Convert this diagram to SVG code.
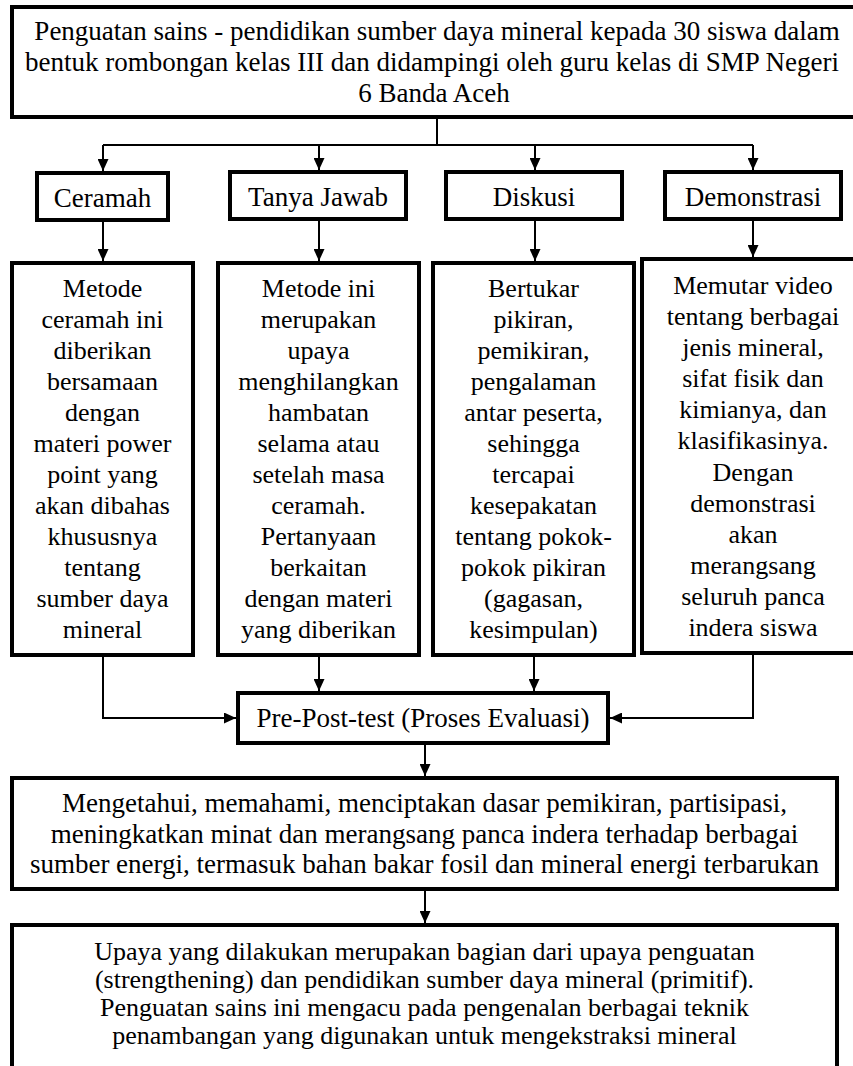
<svg xmlns="http://www.w3.org/2000/svg" width="853" height="1066" viewBox="0 0 853 1066">
<style>
.box{fill:#fff;stroke:#000;stroke-width:4}
.t{font-family:"Liberation Serif","Times New Roman",serif;font-size:27px;fill:#000;text-anchor:middle}
.m{font-size:26px}
.c{fill:none;stroke:#000;stroke-width:2}
</style>
<defs>
<marker id="ah" markerUnits="userSpaceOnUse" markerWidth="12" markerHeight="11" viewBox="0 0 12 11" refX="12" refY="5.5" orient="auto">
<path d="M0,0 L12,5.5 L0,11 z" fill="#000"/>
</marker>
</defs>
<rect width="853" height="1066" fill="#fff"/>
<g id="connectors">
<path class="c" d="M437 117 V145 M103 145 H753"/>
<path class="c" d="M103 145 V171" marker-end="url(#ah)"/>
<path class="c" d="M319 145 V170" marker-end="url(#ah)"/>
<path class="c" d="M535 145 V170" marker-end="url(#ah)"/>
<path class="c" d="M753 145 V170" marker-end="url(#ah)"/>
<path class="c" d="M103 222 V261" marker-end="url(#ah)"/>
<path class="c" d="M319 221 V261" marker-end="url(#ah)"/>
<path class="c" d="M535 221 V261" marker-end="url(#ah)"/>
<path class="c" d="M753 221 V257" marker-end="url(#ah)"/>
<path class="c" d="M103 657 V718 H236" marker-end="url(#ah)"/>
<path class="c" d="M319 657 V691" marker-end="url(#ah)"/>
<path class="c" d="M534 657 V691" marker-end="url(#ah)"/>
<path class="c" d="M753 655 V718 H610" marker-end="url(#ah)"/>
<path class="c" d="M425 745 V776" marker-end="url(#ah)"/>
<path class="c" d="M425 891 V923" marker-end="url(#ah)"/>
</g>
<g id="top">
<rect class="box" x="12" y="7" width="850" height="110"/>
<text class="t"><tspan x="437" y="40">Penguatan sains - pendidikan sumber daya mineral kepada 30 siswa dalam</tspan><tspan x="432" y="71">bentuk rombongan kelas III dan didampingi oleh guru kelas di SMP Negeri</tspan><tspan x="434" y="102">6 Banda Aceh</tspan></text>
</g>
<g id="ceramah">
<rect class="box" x="37" y="173" width="131" height="47"/>
<text class="t" x="102.5" y="207">Ceramah</text>
</g>
<g id="tanya-jawab">
<rect class="box" x="230" y="172" width="176" height="47"/>
<text class="t" x="318" y="206">Tanya Jawab</text>
</g>
<g id="diskusi">
<rect class="box" x="446" y="172" width="176" height="47"/>
<text class="t" x="534" y="206">Diskusi</text>
</g>
<g id="demonstrasi">
<rect class="box" x="665" y="172" width="176" height="47"/>
<text class="t" x="753" y="206">Demonstrasi</text>
</g>
<g id="ceramah-desc">
<rect class="box" x="12" y="263" width="181" height="392"/>
<text class="t m"><tspan x="102.5" y="297">Metode</tspan><tspan x="102.5" y="328">ceramah ini</tspan><tspan x="102.5" y="359">diberikan</tspan><tspan x="102.5" y="390">bersamaan</tspan><tspan x="102.5" y="421">dengan</tspan><tspan x="102.5" y="452">materi power</tspan><tspan x="102.5" y="483">point yang</tspan><tspan x="102.5" y="514">akan dibahas</tspan><tspan x="102.5" y="545">khususnya</tspan><tspan x="102.5" y="576">tentang</tspan><tspan x="102.5" y="607">sumber daya</tspan><tspan x="102.5" y="638">mineral</tspan></text>
</g>
<g id="tanya-desc">
<rect class="box" x="218" y="263" width="201" height="392"/>
<text class="t m"><tspan x="318.5" y="297">Metode ini</tspan><tspan x="318.5" y="328">merupakan</tspan><tspan x="318.5" y="359">upaya</tspan><tspan x="318.5" y="390">menghilangkan</tspan><tspan x="318.5" y="421">hambatan</tspan><tspan x="318.5" y="452">selama atau</tspan><tspan x="318.5" y="483">setelah masa</tspan><tspan x="318.5" y="514">ceramah.</tspan><tspan x="318.5" y="545">Pertanyaan</tspan><tspan x="318.5" y="576">berkaitan</tspan><tspan x="318.5" y="607">dengan materi</tspan><tspan x="318.5" y="638">yang diberikan</tspan></text>
</g>
<g id="diskusi-desc">
<rect class="box" x="433" y="263" width="201" height="392"/>
<text class="t m"><tspan x="533.5" y="297">Bertukar</tspan><tspan x="533.5" y="328">pikiran,</tspan><tspan x="533.5" y="359">pemikiran,</tspan><tspan x="533.5" y="390">pengalaman</tspan><tspan x="533.5" y="421">antar peserta,</tspan><tspan x="533.5" y="452">sehingga</tspan><tspan x="533.5" y="483">tercapai</tspan><tspan x="533.5" y="514">kesepakatan</tspan><tspan x="533.5" y="545">tentang pokok-</tspan><tspan x="533.5" y="576">pokok pikiran</tspan><tspan x="533.5" y="607">(gagasan,</tspan><tspan x="533.5" y="638">kesimpulan)</tspan></text>
</g>
<g id="demonstrasi-desc">
<rect class="box" x="642" y="259" width="222" height="394"/>
<text class="t m"><tspan x="753" y="294">Memutar video</tspan><tspan x="753" y="325">tentang berbagai</tspan><tspan x="753" y="356">jenis mineral,</tspan><tspan x="753" y="387">sifat fisik dan</tspan><tspan x="753" y="418">kimianya, dan</tspan><tspan x="753" y="449">klasifikasinya.</tspan><tspan x="753" y="481">Dengan</tspan><tspan x="753" y="512">demonstrasi</tspan><tspan x="753" y="543">akan</tspan><tspan x="753" y="574">merangsang</tspan><tspan x="753" y="605">seluruh panca</tspan><tspan x="753" y="636">indera siswa</tspan></text>
</g>
<g id="evaluasi">
<rect class="box" x="238" y="693" width="370" height="50"/>
<text class="t" x="423" y="727">Pre-Post-test (Proses Evaluasi)</text>
</g>
<g id="hasil">
<rect class="box" x="12" y="778" width="825" height="111"/>
<text class="t"><tspan x="424.5" y="812">Mengetahui, memahami, menciptakan dasar pemikiran, partisipasi,</tspan><tspan x="424.5" y="843">meningkatkan minat dan merangsang panca indera terhadap berbagai</tspan><tspan x="424.5" y="873">sumber energi, termasuk bahan bakar fosil dan mineral energi terbarukan</tspan></text>
</g>
<g id="kesimpulan">
<rect class="box" x="12" y="925" width="825" height="160"/>
<text class="t m"><tspan x="424.5" y="960">Upaya yang dilakukan merupakan bagian dari upaya penguatan</tspan><tspan x="424.5" y="988">(strengthening) dan pendidikan sumber daya mineral (primitif).</tspan><tspan x="424.5" y="1016">Penguatan sains ini mengacu pada pengenalan berbagai teknik</tspan><tspan x="424.5" y="1044">penambangan yang digunakan untuk mengekstraksi mineral</tspan></text>
</g>
</svg>
